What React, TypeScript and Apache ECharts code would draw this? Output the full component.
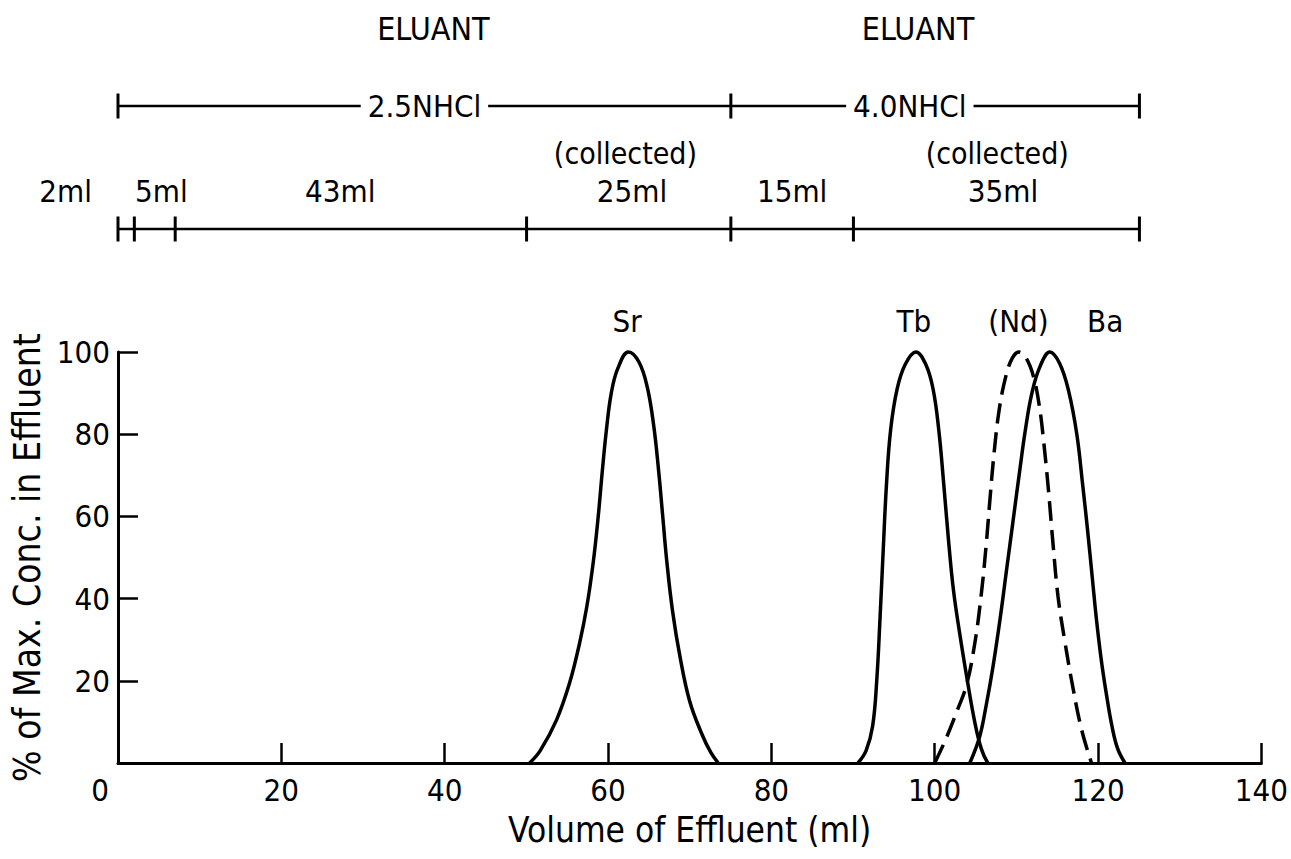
import React, { useEffect, useRef } from "react";
import * as echarts from "echarts";

// ---------- data ----------
const xTicks = { min: 0, max: 140, interval: 20 };
const yTicks = { min: 0, max: 100, interval: 20 };

const srX = [50.4, 51.7, 53.7, 55.3, 56.5, 57.4, 58.2, 58.8, 59.3, 59.8, 60.4, 61.2, 62.5, 63.8, 64.8, 65.6, 66.2, 66.7, 67.2, 67.9, 68.8, 70.0, 71.5, 72.6, 73.5];
const srY = [0, 3, 10.5, 19.5, 29, 38, 49, 60, 71, 81, 90, 96, 100, 97.5, 91.5, 82, 71, 60, 49, 37, 26, 15, 7, 2.5, 0];

const tbX = [90.6, 91.6, 92.4, 92.9, 93.3, 93.7, 94.1, 94.6, 95.4, 96.4, 97.7, 98.9, 99.8, 100.5, 101.1, 101.7, 102.3, 103.1, 104.0, 104.9, 105.7, 106.5];
const tbY = [0, 3, 9, 20, 35, 52, 68, 81, 91, 97, 100, 97, 91, 81, 68, 54, 42, 31, 20, 10, 3.5, 0];

const ndX = [100.0, 101.4, 102.8, 103.9, 104.9, 105.7, 106.3, 106.8, 107.3, 107.9, 108.7, 109.5, 110.3, 111.2, 112.1, 112.8, 113.3, 113.9, 114.5, 115.1, 115.9, 116.9, 118.0, 119.2];
const ndY = [0, 6, 13, 19, 29, 41, 53, 65, 76, 86, 94, 98.5, 100, 98.5, 94, 87, 79, 67, 53, 40.5, 30, 18.6, 8, 0];

const baX = [104.3, 105.5, 106.3, 107.1, 108.0, 108.8, 109.6, 110.4, 111.1, 111.9, 112.9, 114.1, 115.3, 116.4, 117.4, 118.1, 118.7, 119.3, 119.8, 120.4, 121.0, 121.7, 122.4, 123.3];
const baY = [0, 6.4, 14, 23, 35, 47, 59, 71, 81, 90, 96.5, 100, 97.2, 90.5, 80, 68, 57, 45, 35, 25, 17, 9, 3.5, 0];

// peak labels: [x (ml), name]
const peakLabels: [number, string][] = [
  [62.3, "Sr"],
  [97.4, "Tb"],
  [110.2, "(Nd)"],
  [120.8, "Ba"],
];

// eluant brackets (ml)
const eluantBreaks = [0, 75, 125];
const eluantNames: [number, string][] = [
  [37.5, "2.5NHCl"],
  [96.9, "4.0NHCl"],
];
const eluantTitles: [number, string][] = [
  [38.6, "ELUANT"],
  [97.9, "ELUANT"],
];
// fraction brackets (ml)
const fractionBreaks = [0, 2, 7, 50, 75, 90, 125];
const fractionLabels: [number, string][] = [
  [-6.4, "2ml"],
  [5.3, "5ml"],
  [27.2, "43ml"],
  [62.9, "25ml"],
  [82.5, "15ml"],
  [108.3, "35ml"],
];
const collectedLabels: [number, string][] = [
  [62.1, "(collected)"],
  [107.6, "(collected)"],
];

// annotation rows in the top panel (panel units = px from top)
const ROW_TITLE = 29;
const ROW_ELUANT = 106;
const ROW_COLLECTED = 153;
const ROW_FRACTION = 191;
const ROW_FRACTION_LINE = 229;
const ROW_PEAK = 321;

const FONT = "'DejaVu Sans Condensed', 'Liberation Sans Narrow', 'Liberation Sans', sans-serif";

const zip = (xs: number[], ys: number[]) => xs.map((x, i) => [x, ys[i]]);

export default function App() {
  const ref = useRef<HTMLDivElement>(null);

  useEffect(() => {
    if (!ref.current) return;
    const chart = echarts.init(ref.current, undefined, { renderer: "svg" });

    const curve = (name: string, xs: number[], ys: number[], dashed = false) => ({
      name,
      type: "line",
      xAxisIndex: 0,
      yAxisIndex: 0,
      data: zip(xs, ys),
      smooth: 0.4,
      showSymbol: false,
      symbol: "none",
      clip: false,
      lineStyle: {
        color: "#000",
        width: 3.5,
        type: dashed ? [20, 9] : "solid",
      },
      z: 3,
    });

    const textSeries = (items: [number, string][], row: number, size: number, bg = false) => ({
      type: "scatter",
      xAxisIndex: 1,
      yAxisIndex: 1,
      symbolSize: 0,
      clip: false,
      silent: true,
      z: 6,
      itemStyle: { opacity: 1, color: "#000" },
      data: items.map(([x, t]) => [x, row, t]),
      label: {
        show: true,
        position: "inside",
        formatter: (p: any) => p.data[2],
        color: "#000",
        opacity: 1,
        textBorderWidth: 0,
        fontFamily: FONT,
        fontSize: size,
        backgroundColor: bg ? "#fff" : "transparent",
        padding: bg ? [2, 7, 2, 7] : 0,
      },
    });

    const bracketLine = (breaks: number[], row: number) => ({
      type: "line",
      xAxisIndex: 1,
      yAxisIndex: 1,
      data: [
        [breaks[0], row],
        [breaks[breaks.length - 1], row],
      ],
      symbol: "none",
      clip: false,
      silent: true,
      lineStyle: { color: "#000", width: 2.5 },
      z: 4,
    });

    const bracketTicks = (breaks: number[], row: number) => ({
      type: "scatter",
      xAxisIndex: 1,
      yAxisIndex: 1,
      data: breaks.map((b) => [b, row]),
      symbol: "rect",
      symbolSize: [3, 25],
      clip: false,
      silent: true,
      itemStyle: { color: "#000", opacity: 1 },
      z: 5,
    });

    const axisText = { color: "#000", fontFamily: FONT };

    chart.setOption({
      animation: false,
      backgroundColor: "#fff",
      grid: [
        { left: 118, right: 29, top: 352, bottom: 96 },
        { left: 118, right: 29, top: 0, height: 352 },
      ],
      xAxis: [
        {
          type: "value",
          gridIndex: 0,
          min: xTicks.min,
          max: xTicks.max,
          interval: xTicks.interval,
          axisLine: { show: true, lineStyle: { color: "#000", width: 3 } },
          axisTick: { show: true, inside: true, length: 20, lineStyle: { color: "#000", width: 2.5 } },
          splitLine: { show: false },
          axisLabel: {
            ...axisText,
            fontSize: 31,
            margin: 11,
            formatter: (v: number) => (v === 0 ? "{z|0}" : String(v)),
            rich: { z: { ...axisText, fontSize: 31, padding: [0, 36, 0, 0] } },
          },
          name: "Volume of Effluent (ml)",
          nameLocation: "middle",
          nameGap: 49,
          nameTextStyle: { ...axisText, fontSize: 35 },
        },
        {
          type: "value",
          gridIndex: 1,
          min: xTicks.min,
          max: xTicks.max,
          show: false,
        },
      ],
      yAxis: [
        {
          type: "value",
          gridIndex: 0,
          min: yTicks.min,
          max: yTicks.max,
          interval: yTicks.interval,
          axisLine: { show: true, lineStyle: { color: "#000", width: 3 } },
          axisTick: { show: true, inside: true, length: 20, lineStyle: { color: "#000", width: 2.5 } },
          splitLine: { show: false },
          axisLabel: {
            ...axisText,
            fontSize: 31,
            margin: 8,
            formatter: (v: number) => (v === 0 ? "" : String(v)),
          },
          name: "% of Max. Conc. in Effluent",
          nameLocation: "middle",
          nameGap: 68,
          nameRotate: 90,
          nameTextStyle: { ...axisText, fontSize: 37 },
        },
        {
          type: "value",
          gridIndex: 1,
          min: 0,
          max: 352,
          inverse: true,
          show: false,
        },
      ],
      series: [
        curve("Sr", srX, srY),
        curve("Tb", tbX, tbY),
        curve("(Nd)", ndX, ndY, true),
        curve("Ba", baX, baY),
        bracketLine(eluantBreaks, ROW_ELUANT),
        bracketTicks(eluantBreaks, ROW_ELUANT),
        bracketLine(fractionBreaks, ROW_FRACTION_LINE),
        bracketTicks(fractionBreaks, ROW_FRACTION_LINE),
        textSeries(eluantTitles, ROW_TITLE, 32),
        textSeries(eluantNames, ROW_ELUANT, 31, true),
        textSeries(collectedLabels, ROW_COLLECTED, 30),
        textSeries(fractionLabels, ROW_FRACTION, 31),
        textSeries(peakLabels, ROW_PEAK, 31),
      ],
    });

    return () => chart.dispose();
  }, []);

  return (
    <div
      ref={ref}
      style={{ position: "fixed", left: 0, top: 0, width: 1291, height: 859, background: "#fff" }}
    />
  );
}
